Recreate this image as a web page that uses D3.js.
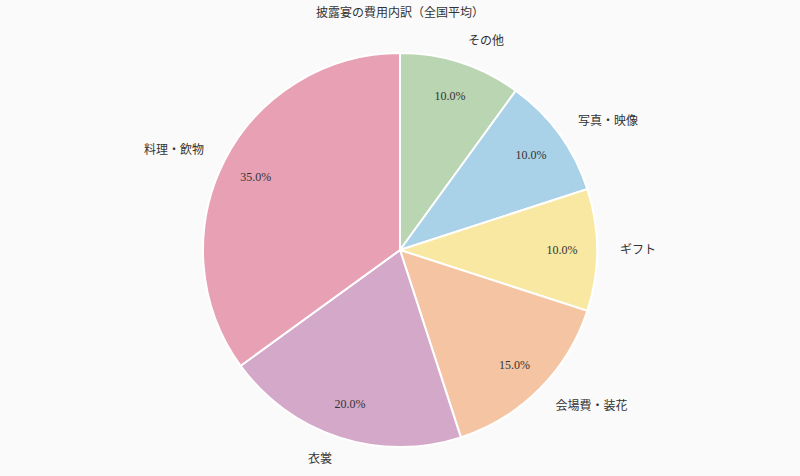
<!DOCTYPE html>
<html lang="ja">
<head>
<meta charset="UTF-8">
<script src="https://cdn.jsdelivr.net/npm/d3@7"></script>
<title>披露宴の費用内訳</title>
<style>
  body { margin: 0; background: #fafafa; }
  svg text { font-family: "Liberation Serif", "DejaVu Serif", "Noto Sans CJK JP", serif; fill: #333; }
</style>
</head>
<body>
<script>
// data
var categories = ["その他", "写真・映像", "ギフト", "会場費・装花", "衣裳", "料理・飲物"];
var shares = [10, 10, 10, 15, 20, 35];
var colors = ["#b9d5b1", "#a9d1e7", "#f8e8a2", "#f5c5a3", "#d4a8c8", "#e8a1b4"];

var w = 800, h = 476;
var cx = 400, cy = 250, radius = 197;

var dataset = categories.map(function (c, i) {
    return { name: c, value: shares[i], color: colors[i] };
});

var svg = d3.select("body").append("svg")
    .attr("width", w)
    .attr("height", h);

svg.append("text")
    .attr("x", 400)
    .attr("y", 17)
    .attr("text-anchor", "middle")
    .attr("font-size", "12px")
    .text("披露宴の費用内訳（全国平均）");

var pie = d3.pie().sort(null).value(function (d) { return d.value; });
var arc = d3.arc().innerRadius(0).outerRadius(radius);
var pctArc = d3.arc().innerRadius(162).outerRadius(162);
var lblArc = d3.arc().innerRadius(220).outerRadius(220);

var total = d3.sum(shares);
var g = svg.append("g").attr("transform", "translate(" + cx + "," + cy + ")");
var arcs = pie(dataset);

g.selectAll("path")
    .data(arcs)
    .enter()
    .append("path")
    .attr("d", arc)
    .attr("fill", function (d) { return d.data.color; })
    .attr("stroke", "#fff")
    .attr("stroke-width", 2);

g.selectAll("text.pct")
    .data(arcs)
    .enter()
    .append("text")
    .attr("class", "pct")
    .attr("transform", function (d) { return "translate(" + pctArc.centroid(d) + ")"; })
    .attr("text-anchor", "middle")
    .attr("dy", "0.35em")
    .attr("font-size", "12px")
    .text(function (d) { return (d.data.value / total * 100).toFixed(1) + "%"; });

g.selectAll("text.lbl")
    .data(arcs)
    .enter()
    .append("text")
    .attr("class", "lbl")
    .attr("transform", function (d) { return "translate(" + lblArc.centroid(d) + ")"; })
    .attr("text-anchor", function (d) {
        var mid = (d.startAngle + d.endAngle) / 2;
        return mid < Math.PI ? "start" : "end";
    })
    .attr("dy", "0.35em")
    .attr("font-size", "12px")
    .text(function (d) { return d.data.name; });
</script>
</body>
</html>
